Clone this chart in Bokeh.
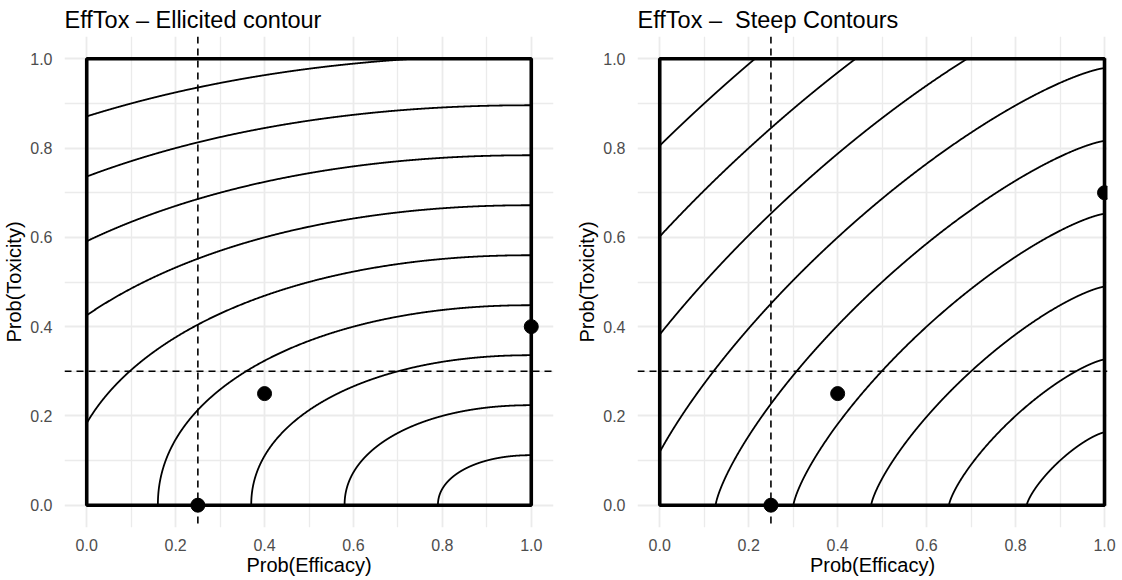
import numpy as np
from bokeh.plotting import figure
from bokeh.layouts import row
from bokeh.models import Range1d, FixedTicker, Span
from bokeh.embed import file_html
from bokeh.resources import INLINE

# ---------------- data ----------------
titles = ["EffTox \u2013 Ellicited contour", "EffTox \u2013\u00a0 Steep Contours"]
eff_elicited = [0.25, 0.40, 1.00]            # elicited points, efficacy
tox_elicited_left = [0.00, 0.25, 0.40]       # elicited points, toxicity (left)
tox_elicited_right = [0.00, 0.25, 0.70]      # elicited points, toxicity (right)
eff_threshold = 0.25                          # dashed vertical line
tox_threshold = 0.30                          # dashed horizontal line
tick_values = [0.0, 0.2, 0.4, 0.6, 0.8, 1.0]
tick_labels = ["0.0", "0.2", "0.4", "0.6", "0.8", "1.0"]
minor_tick_values = [0.1, 0.3, 0.5, 0.7, 0.9]
n_levels = 11                                 # contour levels between min and max utility
x_label = "Prob(Efficacy)"
y_label = "Prob(Toxicity)"

FONT = "Liberation Sans"


def solve_p(e0, t1, em, tm):
    a = (1 - em) / (1 - e0)
    b = tm / t1
    lo, hi = 0.05, 50.0
    for _ in range(200):
        mid = 0.5 * (lo + hi)
        if a ** mid + b ** mid - 1 > 0:
            lo = mid
        else:
            hi = mid
    return 0.5 * (lo + hi)


def contours(effs, toxs):
    e0, t1 = effs[0], toxs[2]
    p = solve_p(e0, t1, effs[1], toxs[1])

    def util(e, t):
        return 1 - (((1 - e) / (1 - e0)) ** p + (t / t1) ** p) ** (1 / p)

    levels = np.linspace(util(0.0, 1.0), util(1.0, 0.0), n_levels)[1:-1]
    xs, ys = [], []
    for u in levels:
        R = 1 - u
        c = (1 / ((1 - e0) * R)) ** (p / 2)
        s = (1 / (t1 * R)) ** (p / 2)
        th_lo = 0.0 if c >= 1 else np.arccos(c)
        th_hi = np.pi / 2 if s >= 1 else np.arcsin(s)
        if th_lo >= th_hi:
            continue
        th = np.linspace(th_lo, th_hi, 800)
        a = R * np.cos(th) ** (2 / p)
        b = R * np.sin(th) ** (2 / p)
        e = np.clip(1 - (1 - e0) * a, 0, 1)
        t = np.clip(t1 * b, 0, 1)
        xs.append(e.tolist())
        ys.append(t.tolist())
    return xs, ys


def make_panel(title, effs, toxs, x_end, left_border, right_border, frame_w):
    p = figure(
        frame_width=frame_w, frame_height=491,
        x_range=Range1d(-0.05, x_end), y_range=Range1d(-0.05, 1.05),
        output_backend="svg", toolbar_location=None,
        min_border_left=left_border, min_border_right=right_border,
        min_border_top=0, min_border_bottom=0,
        background_fill_color="white", border_fill_color="white",
        outline_line_color=None,
    )
    p.title.text = title
    p.title.text_font = FONT
    p.title.text_font_size = "23.5px"
    p.title.text_font_style = "normal"
    p.title.text_color = "black"
    p.title.standoff = 8
    p.title.offset = 0

    for ax in (p.xaxis[0], p.yaxis[0]):
        ax.ticker = FixedTicker(ticks=tick_values, minor_ticks=minor_tick_values)
        ax.major_label_overrides = {v: l for v, l in zip(tick_values, tick_labels)}
        ax.axis_line_color = None
        ax.major_tick_line_color = None
        ax.minor_tick_line_color = None
        ax.major_label_text_font = FONT
        ax.major_label_text_font_size = "16px"
        ax.major_label_text_color = "#4D4D4D"
        ax.axis_label_text_font = FONT
        ax.axis_label_text_font_size = "20px"
        ax.axis_label_text_font_style = "normal"
        ax.axis_label_text_color = "black"
    p.xaxis.axis_label = x_label
    p.yaxis.axis_label = y_label
    p.xaxis.major_label_standoff = 5
    p.xaxis.axis_label_standoff = 0
    p.yaxis.major_label_standoff = 6
    p.yaxis.axis_label_standoff = 2

    for g in (p.xgrid[0], p.ygrid[0]):
        g.ticker = FixedTicker(ticks=tick_values, minor_ticks=minor_tick_values)
        g.grid_line_color = "#EBEBEB"
        g.grid_line_width = 1.8
        g.minor_grid_line_color = "#EBEBEB"
        g.minor_grid_line_width = 1.3

    xs, ys = contours(effs, toxs)
    p.multi_line(xs, ys, line_color="black", line_width=1.8)

    p.add_layout(Span(location=eff_threshold, dimension="height", line_color="black",
                      line_width=1.6, line_dash="7 5"))
    p.add_layout(Span(location=tox_threshold, dimension="width", line_color="black",
                      line_width=1.6, line_dash="7 5"))

    p.quad(left=[tick_values[0]], right=[tick_values[-1]], bottom=[tick_values[0]],
           top=[tick_values[-1]], fill_alpha=0, line_color="black", line_width=3.6)

    p.scatter(effs, toxs, size=14, color="black")
    return p


p1 = make_panel(titles[0], eff_elicited, tox_elicited_left, 1.05, 58, 20, 489)
p2 = make_panel(titles[1], eff_elicited, tox_elicited_right, 1.0067, 58, 11, 470)

layout = row(p1, p2)
open("out.html", "w").write(file_html(layout, INLINE))
